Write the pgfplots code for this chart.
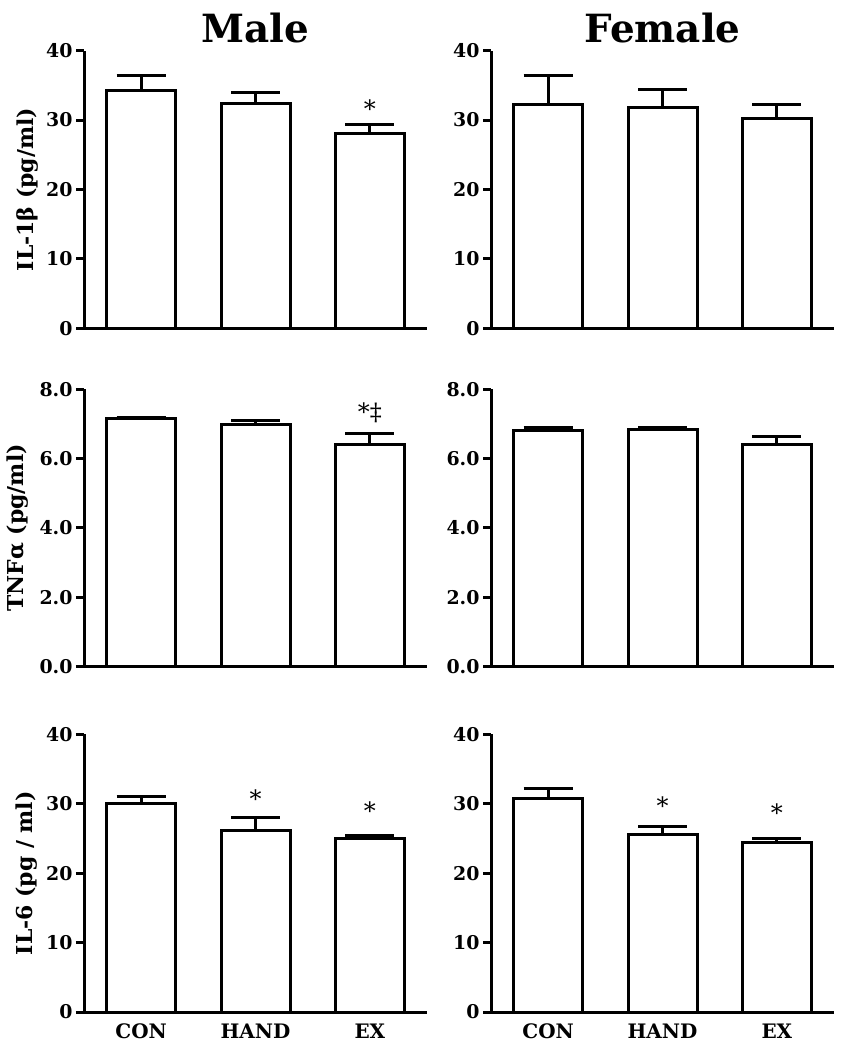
\documentclass[border=0pt]{standalone}
\usepackage{pgfplots}
\pgfplotsset{compat=1.18}
\usepackage{fontspec}
\setmainfont{DejaVu Serif}

\pgfplotsset{
  panel/.style={
    scale only axis, width=343bp, height=277.6bp,
    xmin=-0.5, xmax=2.5, ymin=0,
    axis x line*=bottom, axis y line*=left,
    axis line style={-, line width=3bp, black},
    tick align=outside, major tick length=8bp,
    ytick style={line width=3bp, black},
    xtick style={draw=none},
    xtick=\empty,
    tick label style={font=\bfseries\fontsize{19}{19}\selectfont, black},
    /pgf/number format/assume math mode=true,
    ylabel style={font=\bfseries\fontsize{22}{22}\selectfont, anchor=center},
    title style={font=\bfseries\fontsize{39}{39}\selectfont, at={(axis description cs:0.5,1)}, anchor=base, yshift=2bp},
    clip=false,
    ybar, bar width=69bp,
  },
  bars/.style={
    fill=white, draw=black, line width=3bp,
    error bars/.cd, y dir=plus, y explicit,
    error bar style={line width=3bp, black},
    error mark options={rotate=90, line width=3bp, mark size=24.5bp, black},
  },
}
\tikzset{sigstar/.style={font=\fontsize{24}{24}\selectfont, anchor=base, inner sep=0pt}}

\begin{document}
\begin{tikzpicture}[x=1bp,y=1bp]
\useasboundingbox (0,0) rectangle (846,-1050);

% Row 1: IL-1beta
\begin{axis}[panel, at={(84bp,-328.3bp)}, anchor=south west,
  ymax=40, ytick={0,10,20,30,40},
  title={Male}, ylabel={IL-1β (pg/ml)},
  ylabel style={at={(axis description cs:-0.166,0.5)}}]
\addplot[bars] table[x=x, y=y, y error=e] {
x y e
0 34.3 2.1
1 32.4 1.6
2 28.0 1.3
};
\node[sigstar] at (axis cs:2,30.35) {*};
\end{axis}

\begin{axis}[panel, at={(491bp,-328.3bp)}, anchor=south west,
  ymax=40, ytick={0,10,20,30,40},
  title={Female}]
\addplot[bars] table[x=x, y=y, y error=e] {
x y e
0 32.2 4.2
1 31.8 2.6
2 30.2 2.1
};
\end{axis}

% Row 2: TNF-alpha
\begin{axis}[panel, at={(84bp,-666.7bp)}, anchor=south west,
  ymax=8, ytick={0,2,4,6,8},
  yticklabel style={/pgf/number format/.cd, fixed, fixed zerofill, precision=1},
  ylabel={TNFα (pg/ml)},
  ylabel style={at={(axis description cs:-0.194,0.5)}}]
\addplot[bars] table[x=x, y=y, y error=e] {
x y e
0 7.14 0.05
1 6.97 0.13
2 6.41 0.30
};
\node[sigstar] at (axis cs:2,7.09) {*‡};
\end{axis}

\begin{axis}[panel, at={(491bp,-666.7bp)}, anchor=south west,
  ymax=8, ytick={0,2,4,6,8},
  yticklabel style={/pgf/number format/.cd, fixed, fixed zerofill, precision=1}]
\addplot[bars] table[x=x, y=y, y error=e] {
x y e
0 6.82 0.06
1 6.83 0.05
2 6.39 0.24
};
\end{axis}

% Row 3: IL-6
\begin{axis}[panel, at={(84bp,-1012bp)}, anchor=south west,
  ymax=40, ytick={0,10,20,30,40},
  xtick={0,1,2}, xticklabels={CON,HAND,EX},
  xticklabel style={font=\bfseries\fontsize{20}{20}\selectfont},
  ylabel={IL-6 (pg / ml)},
  ylabel style={at={(axis description cs:-0.166,0.5)}}]
\addplot[bars] table[x=x, y=y, y error=e] {
x y e
0 30.0 1.0
1 26.1 2.0
2 25.0 0.4
};
\node[sigstar] at (axis cs:1,29.4) {*};
\node[sigstar] at (axis cs:2,27.7) {*};
\end{axis}

\begin{axis}[panel, at={(491bp,-1012bp)}, anchor=south west,
  ymax=40, ytick={0,10,20,30,40},
  xtick={0,1,2}, xticklabels={CON,HAND,EX},
  xticklabel style={font=\bfseries\fontsize{20}{20}\selectfont}]
\addplot[bars] table[x=x, y=y, y error=e] {
x y e
0 30.7 1.5
1 25.6 1.1
2 24.4 0.6
};
\node[sigstar] at (axis cs:1,28.5) {*};
\node[sigstar] at (axis cs:2,27.4) {*};
\end{axis}
\end{tikzpicture}
\end{document}
